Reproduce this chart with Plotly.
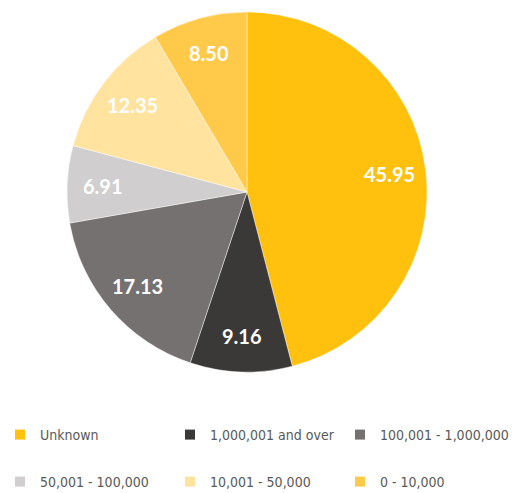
import math
import plotly.graph_objects as go

labels = ["Unknown", "1,000,001 and over", "100,001 - 1,000,000",
          "50,001 - 100,000", "10,001 - 50,000", "0 - 10,000"]
values = [45.95, 9.16, 17.13, 6.91, 12.35, 8.50]
colors = ["#FFC10E", "#3B3838", "#767171", "#D0CECE", "#FFE39F", "#FFCA4A"]

W, H = 512, 493
cx, cy, R = 247, 192, 180

fig = go.Figure()
fig.add_trace(go.Pie(
    labels=labels, values=values, sort=False, direction="clockwise", rotation=0,
    marker=dict(colors=colors, line=dict(color="rgba(255,255,255,0.55)", width=0.8)),
    textinfo="none", showlegend=False, hoverinfo="label+value",
    domain=dict(x=[(cx - R) / W, (cx + R) / W], y=[(H - cy - R) / H, (H - cy + R) / H]),
))

# data labels placed near the outer part of each slice (mid-angle, 0.8 R)
total = sum(values)
cum = 0.0
for v in values:
    mid = (cum + v / 2) / total * 2 * math.pi
    cum += v
    r = 0.8 * R
    px = cx + r * math.sin(mid)
    py = cy - r * math.cos(mid)
    fig.add_annotation(
        x=px / W, y=(H - py) / H, xref="paper", yref="paper", showarrow=False,
        text=f"{v:.2f}", xanchor="center", yanchor="middle",
        font=dict(family="Lato", size=20, color="white", weight="bold"),
    )

# legend entries (two rows of three)
for i, (lab, col) in enumerate(zip(labels, colors)):
    fig.add_trace(go.Scatter(
        x=[None], y=[None], mode="markers", name=lab,
        marker=dict(symbol="square", size=10, color=col),
        legend="legend" if i < 3 else "legend2", hoverinfo="skip",
    ))

legfont = dict(family="DejaVu Sans Condensed, sans-serif", size=14, color="#595959")
common = dict(orientation="h", entrywidth=125, entrywidthmode="pixels", font=legfont,
              x=0, xanchor="left", yanchor="middle", bgcolor="rgba(0,0,0,0)",
              itemclick=False, itemdoubleclick=False)
fig.update_layout(
    width=W, height=H, margin=dict(l=0, r=0, t=0, b=0, autoexpand=False),
    paper_bgcolor="white", plot_bgcolor="white",
    xaxis=dict(visible=False), yaxis=dict(visible=False),
    legend=dict(y=(H - 435) / H, **common),
    legend2=dict(y=(H - 482) / H, **common),
)
fig.write_html("out.html")
